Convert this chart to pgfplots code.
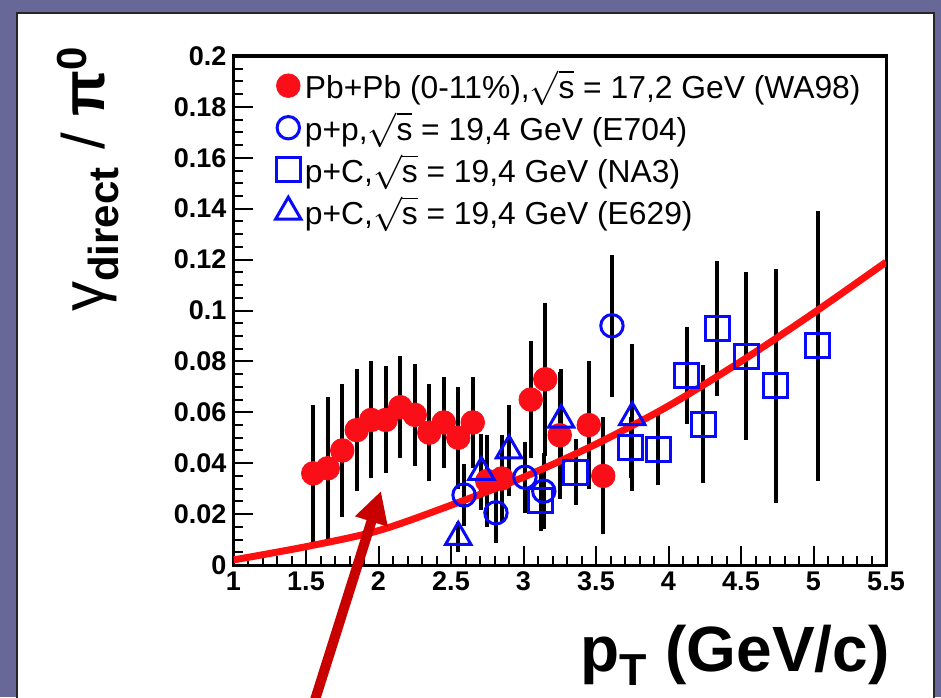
\documentclass[border=0pt]{standalone}
\usepackage{fontspec}
\setmainfont{Liberation Sans}
\usepackage{pgfplots}
\usepackage{pgfplotstable}
\pgfplotsset{compat=1.18}
\usetikzlibrary{arrows.meta}
\definecolor{bgpurple}{RGB}{103,103,152}
\definecolor{curvered}{RGB}{255,16,16}
\definecolor{arrowred}{RGB}{200,0,0}
\definecolor{dotred}{RGB}{250,15,25}
\definecolor{mblue}{RGB}{10,10,250}

\pgfplotstableread{
x y e
1.55 0.036 0.027
1.65 0.038 0.028
1.75 0.045 0.026
1.85 0.053 0.024
1.95 0.057 0.023
2.05 0.057 0.021
2.15 0.062 0.020
2.25 0.059 0.020
2.35 0.052 0.019
2.45 0.056 0.018
2.55 0.050 0.020
2.65 0.056 0.018
2.75 0.033 0.018
2.85 0.034 0.017
3.05 0.065 0.023
3.15 0.073 0.030
3.25 0.051 0.025
3.45 0.055 0.025
3.55 0.035 0.023
}\wanine

\pgfplotstableread{
x y e
2.59 0.0275 0.012
2.81 0.0205 0.012
3.01 0.0345 0.014
3.14 0.029 0.015
3.61 0.094 0.028
}\esevenoh

\pgfplotstableread{
x y e
3.12 0.0255 0.012
3.36 0.0365 0.013
3.74 0.046 0.012
3.93 0.0455 0.014
4.125 0.0744 0.019
4.24 0.0554 0.023
4.335 0.093 0.0265
4.535 0.082 0.033
4.74 0.0705 0.046
5.03 0.0862 0.053
}\nathree

\pgfplotstableread{
x y e
2.55 0.011 0.006
2.71 0.0365 0.015
2.90 0.045 0.018
3.26 0.057 0.020
3.75 0.058 0.029
}\esixtwo

\pgfplotstableread{
x y
1.0 0.0020
1.5 0.0072
2.0 0.0135
2.5 0.0235
3.0 0.0345
3.5 0.0475
4.0 0.0625
4.5 0.0800
5.0 0.0990
5.5 0.1190
}\curve

\begin{document}
\begin{tikzpicture}
\useasboundingbox (0,0) rectangle (470.5pt,348.5pt);
\clip (0,0) rectangle (470.5pt,348.5pt);
\fill[bgpurple] (0,0) rectangle (470.5pt,348.5pt);
\filldraw[fill=white,draw=black!85,line width=0.8pt] (8.5pt,-5pt) rectangle (467pt,342pt);
\begin{axis}[
  at={(116.75pt,66pt)}, anchor=south west,
  scale only axis, width=326.25pt, height=254.5pt,
  xmin=1, xmax=5.5, ymin=0, ymax=0.2,
  axis line style={line width=1.5pt},
  xtick={1,1.5,2,2.5,3,3.5,4,4.5,5,5.5},
  xticklabels={1,1.5,2,2.5,3,3.5,4,4.5,5,5.5},
  ytick={0,0.02,0.04,0.06,0.08,0.1,0.12,0.14,0.16,0.18,0.2},
  yticklabels={0,0.02,0.04,0.06,0.08,0.1,0.12,0.14,0.16,0.18,0.2},
  minor x tick num=4, minor y tick num=3,
  tick align=inside, xtick pos=bottom, ytick pos=left,
  major tick length=9.5pt, minor tick length=4.5pt,
  every tick/.append style={black, line width=1pt},
  ticklabel style={font=\fontsize{13.5}{13.5}\selectfont\bfseries},
  /pgf/number format/assume math mode=true,
  xlabel={p\textsubscript{T} (GeV/c)},
  xlabel style={at={(axis description cs:1.006,-0.177)}, anchor=east, inner sep=0pt,
    font=\fontsize{32}{32}\selectfont\bfseries},
  ylabel={\fontsize{30}{30}\selectfont γ\textsubscript{\bfseries direct} / \bfseries π\textsuperscript{0}},
  ylabel style={at={(axis description cs:-0.223,1.02)}, anchor=east, inner sep=0pt},
  legend style={at={(axis description cs:0.064,0.981)}, anchor=north west, draw=none, fill=none,
    font=\fontsize{15.9}{17}\selectfont, row sep=1.4pt, inner sep=0pt},
  legend cell align=left,
  legend image code/.code={\draw[mark repeat=2,mark phase=2,#1] plot coordinates {(0pt,0pt)(8pt,0pt)(17pt,0pt)};},
]
% error bars first
\addplot[forget plot, draw=none, mark=none, error bars/.cd, y dir=both, y explicit, error mark=none,
  error bar style={draw=black, solid, line width=2pt}] table[x=x,y=y,y error=e] {\wanine};
\addplot[forget plot, draw=none, mark=none, error bars/.cd, y dir=both, y explicit, error mark=none,
  error bar style={draw=black, solid, line width=2pt}] table[x=x,y=y,y error=e] {\esevenoh};
\addplot[forget plot, draw=none, mark=none, error bars/.cd, y dir=both, y explicit, error mark=none,
  error bar style={draw=black, solid, line width=2pt}] table[x=x,y=y,y error=e] {\nathree};
\addplot[forget plot, draw=none, mark=none, error bars/.cd, y dir=both, y explicit, error mark=none,
  error bar style={draw=black, solid, line width=2pt}] table[x=x,y=y,y error=e] {\esixtwo};
% markers
\addplot[only marks, mark=*, mark size=5.9pt, color=dotred] table[x=x,y=y] {\wanine};
\addlegendentry{Pb+Pb (0-11\%),$\sqrt{\mbox{s}}$ = 17,2 GeV (WA98)}
\addplot[only marks, mark=o, mark size=5.6pt, color=mblue, mark options={line width=1.5pt}] table[x=x,y=y] {\esevenoh};
\addlegendentry{p+p,$\sqrt{\mbox{s}}$ = 19,4 GeV (E704)}
\addplot[only marks, mark=square, mark size=6pt, color=mblue, mark options={line width=1.5pt}] table[x=x,y=y] {\nathree};
\addlegendentry{p+C,$\sqrt{\mbox{s}}$ = 19,4 GeV (NA3)}
\addplot[only marks, mark=triangle, mark size=7.3pt, color=mblue, mark options={line width=1.5pt}] table[x=x,y=y] {\esixtwo};
\addlegendentry{p+C,$\sqrt{\mbox{s}}$ = 19,4 GeV (E629)}
% curve
\addplot[forget plot, curvered, line width=3.5pt, smooth, mark=none] table[x=x,y=y] {\curve};
\end{axis}
\draw[arrowred, line width=5pt, -{Triangle[length=16pt,width=16pt]}] (157pt,-3pt) -- (190.5pt,103pt);
\end{tikzpicture}
\end{document}
